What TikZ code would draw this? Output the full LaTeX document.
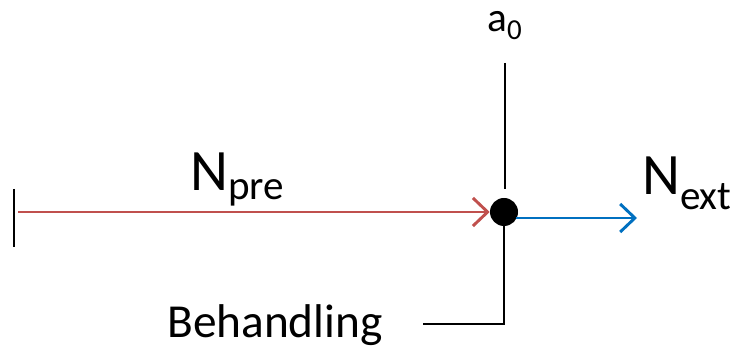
\documentclass[tikz,border=0pt]{standalone}
\usepackage{fontspec}
\setmainfont{Carlito}
\usetikzlibrary{arrows.meta}
\definecolor{prered}{HTML}{C0504D}
\definecolor{extblue}{HTML}{0070C0}

\begin{document}
\begin{tikzpicture}[x=0.75pt,y=-0.75pt]
\tikzset{
  label/.style={inner sep=0pt,anchor=base west},
  barb/.style={-{Straight Barb[length=11pt,width=21pt,line width=2.2pt]},line width=2.2pt},
  blackline/.style={line width=2pt}
}
\useasboundingbox (0,0) rectangle (739,352);
\node[circle,fill=black,inner sep=0pt,minimum size=21pt] (n_dot) at (504,212) {};
\coordinate (c_tick_top) at (14,189);
\coordinate (c_tick_bot) at (14,247);
\coordinate (c_start) at (18,212);
\coordinate (c_ext_start) at (516,218);
\coordinate (c_ext_end) at (637,218);
\coordinate (c_a_top) at (505,63);
\coordinate (c_a_bot) at (505,189);
\coordinate (c_corner) at (504,324);
\coordinate (c_beh_end) at (423,324);
\node[label,font=\fontsize{44}{48}\selectfont] (n_pre) at (190,191) {N\textsubscript{pre}};
\node[label,font=\fontsize{44}{48}\selectfont] (n_ext) at (642,195) {N\textsubscript{ext}};
\node[label,font=\fontsize{31}{36}\selectfont] (n_a) at (487,32) {a\textsubscript{0}};
\node[label,font=\fontsize{35.5}{40}\selectfont] (n_beh) at (167,338) {Behandling};
\draw[blackline] (c_tick_top) -- (c_tick_bot);
\draw[barb,prered] (c_start) -- (n_dot.west);
\draw[barb,extblue] (c_ext_start) -- (c_ext_end);
\draw[blackline] (c_a_top) -- (c_a_bot);
\draw[blackline] (n_dot.center) -- (c_corner) -- (c_beh_end);
\end{tikzpicture}
\end{document}
